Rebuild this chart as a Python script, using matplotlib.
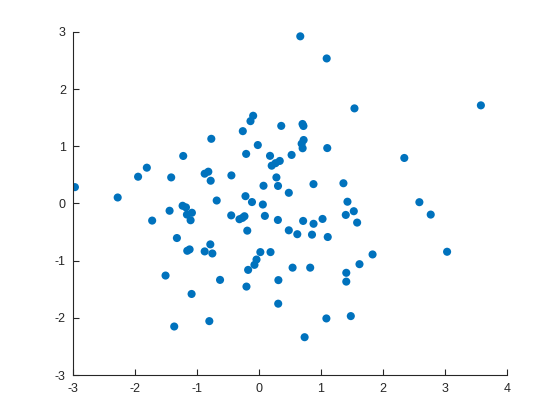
import matplotlib
matplotlib.use("Agg")
import matplotlib.pyplot as plt

x_vals = [-2.966, -2.276, -1.947, -1.806, -1.413, -1.219, -0.873, -0.814, -0.776, -0.766,
          -0.679, -0.442, -0.258, -0.204, -0.215, -0.134, -0.091, -0.110, -0.016, 0.065,
          0.076, 0.181, 0.208, 0.270, 0.338, 0.284, 0.310, 0.362, 0.484, 0.529,
          -1.439, -1.229, -1.175, -1.159, -1.079, -1.100, -1.720, -1.321, -1.154, -1.116,
          -0.873, -0.782, -0.749, -0.445, -0.312, -0.264, -0.231, -0.186, 0.098, 0.308,
          0.025, 0.189, -0.037, -0.070, -0.172, -1.504, -0.625, -0.199, 0.316, -1.084,
          0.313, -0.798, -1.364, 0.669, 1.095, 1.543, 3.582, 0.705, 0.720, 0.723,
          0.691, 0.707, 1.104, 2.347, 0.882, 1.365, 1.430, 2.590, 2.773, 1.532,
          1.403, 1.586, 1.028, 0.883, 0.715, 0.484, 0.621, 0.858, 1.112, 1.835,
          1.624, 1.411, 1.411, 3.037, 0.545, 0.829, 1.090, 1.484, 0.739]
y_vals = [0.286, 0.105, 0.468, 0.626, 0.456, 0.831, 0.521, 0.556, 0.398, 1.131,
          0.052, 0.491, 1.265, 0.867, 0.128, 1.440, 1.534, 0.025, 1.022, -0.018,
          0.310, 0.833, 0.661, 0.705, 0.744, 0.456, 0.307, 1.357, 0.187, 0.849,
          -0.127, -0.040, -0.068, -0.194, -0.162, -0.293, -0.299, -0.604, -0.827, -0.803,
          -0.838, -0.715, -0.874, -0.208, -0.275, -0.252, -0.223, -0.475, -0.217, -0.288,
          -0.850, -0.850, -0.980, -1.073, -1.161, -1.260, -1.336, -1.453, -1.340, -1.582,
          -1.752, -2.057, -2.151, 2.923, 2.536, 1.663, 1.716, 1.390, 1.355, 1.110,
          1.045, 0.966, 0.969, 0.796, 0.339, 0.354, 0.031, 0.023, -0.194, -0.135,
          -0.200, -0.334, -0.270, -0.355, -0.305, -0.469, -0.537, -0.545, -0.586, -0.891,
          -1.061, -1.212, -1.366, -0.844, -1.122, -1.122, -2.010, -1.969, -2.338]

x_ticks = [-3, -2, -1, 0, 1, 2, 3, 4]
y_ticks = [-3, -2, -1, 0, 1, 2, 3]

plt.rcParams['font.family'] = ['Liberation Sans', 'DejaVu Sans']
plt.rcParams['axes.unicode_minus'] = False

fig = plt.figure(figsize=(5.6, 4.2), dpi=100)
ax = fig.add_axes([0.13, 0.107, 0.775, 0.817])
ax.scatter(x_vals, y_vals, s=34, color='#0072BD', edgecolors='none')
ax.set_xlim(-3, 4)
ax.set_ylim(-3, 3)
ax.set_xticks(x_ticks)
ax.set_yticks(y_ticks)
ax.spines['top'].set_visible(False)
ax.spines['right'].set_visible(False)
for sp in ('left', 'bottom'):
    ax.spines[sp].set_color('#262626')
    ax.spines[sp].set_linewidth(0.8)
ax.tick_params(direction='in', length=4, width=0.8, colors='#262626',
               labelsize=9, labelcolor='#262626')
ax.tick_params(axis='x', pad=6)
ax.tick_params(axis='y', pad=5)
fig.savefig('out.png', dpi=100)
